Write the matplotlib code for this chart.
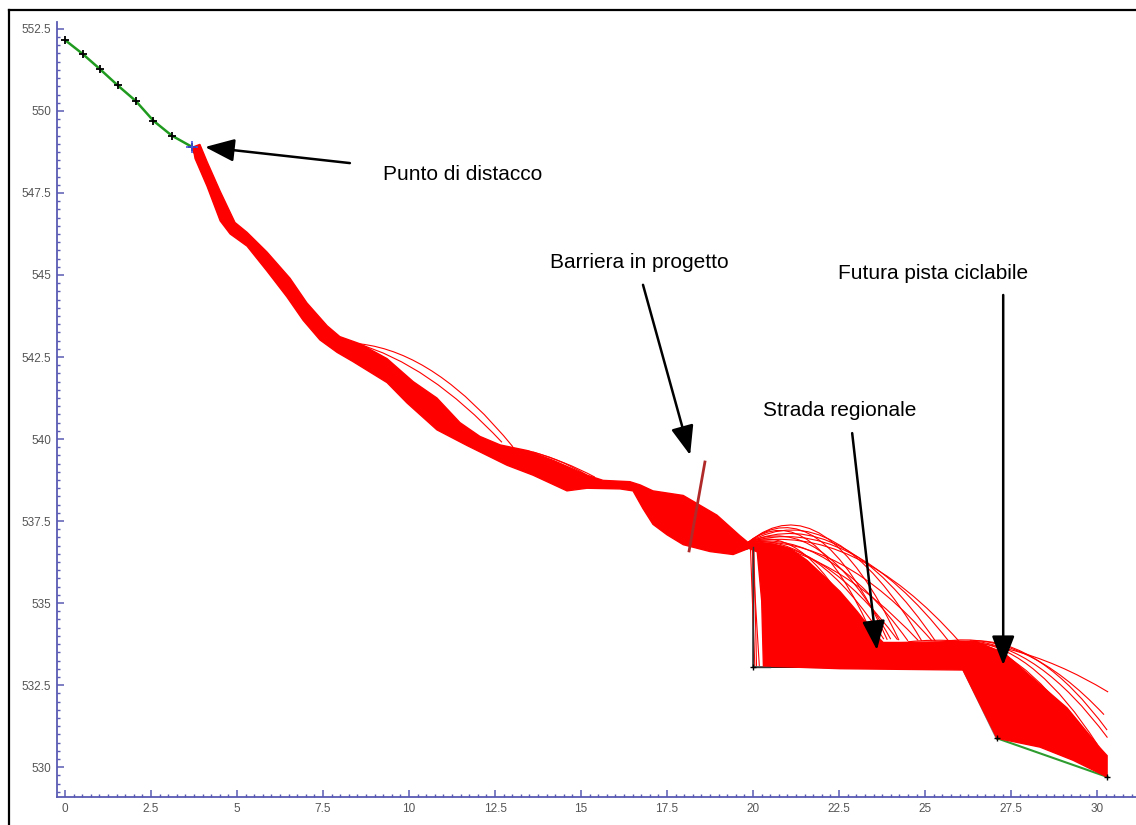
import matplotlib
matplotlib.use("Agg")
import matplotlib.pyplot as plt
from matplotlib.path import Path
from matplotlib.patches import PathPatch, Polygon
from matplotlib.lines import Line2D
from matplotlib.ticker import MultipleLocator

plt.rcParams['font.family'] = ['Liberation Sans', 'DejaVu Sans']

# ---------------- data (distance m, elevation m) ----------------
# upper green slope with survey points
slope_x = [0.0, 0.51, 1.02, 1.53, 2.06, 2.57, 3.10, 3.68]
slope_y = [552.16, 551.74, 551.27, 550.78, 550.30, 549.70, 549.25, 548.91]

# ground profile below the trajectories
ground_x = [3.68, 4.13, 4.51, 4.80, 5.29, 5.87, 6.45, 6.92, 7.41, 7.91, 8.37,
            9.36, 9.94, 10.81, 11.69, 12.27, 12.85, 13.60, 14.59, 15.17, 16.13,
            16.51, 16.80, 17.09, 17.50, 17.97, 18.75, 19.42, 20.0, 20.0, 26.10]
ground_y = [548.91, 547.78, 546.73, 546.33, 545.95, 545.20, 544.40, 543.70,
            543.10, 542.70, 542.43, 541.80, 541.18, 540.36, 539.88, 539.58,
            539.28, 538.98, 538.50, 538.56, 538.54, 538.48, 537.95, 537.47,
            537.15, 536.85, 536.64, 536.55, 536.70, 533.05, 533.02]
scarp_x = [26.10, 27.09]
scarp_y = [533.02, 530.88]
toe_x = [27.09, 30.30]
toe_y = [530.88, 529.70]
node_x = [20.0, 27.09, 30.30]
node_y = [533.05, 530.88, 529.70]

# envelope of the trajectory bundle, first reach (top edge then bottom edge)
band1_top_x = [3.72, 3.92, 4.13, 4.51, 4.94, 5.29, 5.87, 6.54, 7.03, 7.62, 7.99,
               8.58, 9.36, 10.12, 10.81, 11.48, 12.06, 12.65, 13.43, 14.19,
               15.17, 15.64, 16.42, 16.72, 17.09, 17.97, 18.95, 19.62, 19.85]
band1_top_y = [548.90, 548.98, 548.45, 547.55, 546.60, 546.30, 545.70, 544.90,
               544.15, 543.45, 543.12, 542.90, 542.45, 541.75, 541.25, 540.50,
               540.08, 539.82, 539.65, 539.35, 538.90, 538.74, 538.70, 538.60,
               538.42, 538.28, 537.68, 537.05, 536.85]
band1_bot_x = [3.78, 4.13, 4.51, 4.80, 5.29, 5.87, 6.45, 6.92, 7.41, 7.91, 8.37,
               9.36, 9.94, 10.81, 11.69, 12.27, 12.85, 13.60, 14.59, 15.17,
               16.13, 16.51, 16.80, 17.09, 17.50, 17.97, 18.75, 19.42, 19.83]
band1_bot_y = [548.55, 547.70, 546.65, 546.25, 545.88, 545.12, 544.33, 543.62,
               543.02, 542.64, 542.36, 541.72, 541.10, 540.28, 539.80, 539.50,
               539.20, 538.90, 538.42, 538.50, 538.48, 538.42, 537.88, 537.40,
               537.08, 536.78, 536.57, 536.48, 536.65]

# envelope of the bundle below the cliff (top edge, then bottom edge back)
band2_top_x = [19.85, 20.58, 21.08, 21.57, 22.03, 22.53, 23.02, 23.49, 23.78,
               24.27, 25.44, 26.40, 27.27, 28.14, 29.13, 30.09, 30.29]
band2_top_y = [536.85, 536.80, 536.66, 536.30, 535.85, 535.35, 534.75, 534.12,
               533.80, 533.80, 533.82, 533.84, 533.50, 532.70, 531.80, 530.58, 530.35]
band2_bot_x = [30.29, 29.30, 28.34, 27.09, 26.10, 22.53, 20.30, 20.25, 20.12, 19.85]
band2_bot_y = [529.70, 530.21, 530.61, 530.88, 532.96, 533.00, 533.08, 535.07,
               536.56, 536.68]

# isolated flight arcs: (x start, y start, y at mid-distance, x end, y end)
arcs_reach1 = [(8.58, 542.90, 541.98, 13.02, 539.76),
               (8.45, 542.92, 541.85, 12.70, 539.90),
               (13.43, 539.65, 539.36, 15.17, 538.90),
               (13.60, 539.60, 539.28, 15.40, 538.84)]
arcs_reach2 = [(19.87, 536.86, 537.05, 24.24, 533.87),
               (19.87, 536.86, 536.95, 23.90, 533.88),
               (19.87, 536.86, 536.85, 24.90, 533.85),
               (19.87, 536.86, 536.70, 25.30, 533.84),
               (19.87, 536.86, 536.55, 25.70, 533.82),
               (19.87, 536.86, 536.40, 26.00, 533.82),
               (19.87, 536.86, 536.85, 23.50, 533.95),
               (19.87, 536.86, 536.60, 24.00, 533.90),
               (19.87, 536.86, 536.30, 24.50, 533.85),
               (19.87, 536.86, 536.20, 25.20, 533.85),
               (19.87, 536.86, 536.45, 23.20, 533.95),
               (19.87, 536.86, 536.15, 24.20, 533.88),
               (19.87, 536.86, 536.00, 24.80, 533.86),
               (19.87, 536.86, 536.25, 23.80, 533.90)]
arcs_reach3 = [(24.50, 533.82, 533.60, 30.32, 532.29),
               (25.60, 533.84, 533.45, 30.20, 531.60),
               (26.40, 533.85, 533.20, 30.29, 531.13),
               (26.50, 533.80, 532.90, 30.00, 530.70),
               (26.60, 533.75, 532.60, 29.70, 530.50),
               (26.70, 533.70, 532.40, 29.40, 530.45),
               (26.30, 533.85, 533.05, 30.30, 530.90),
               (26.45, 533.82, 532.75, 29.85, 530.55),
               (26.55, 533.78, 532.50, 29.55, 530.48)]
cliff_streaks = [(19.92, 536.78, 20.05, 533.10),
                 (19.97, 536.75, 20.18, 533.10),
                 (20.02, 536.80, 20.10, 533.10)]

barrier_x = [18.60, 18.14]
barrier_y = [539.30, 536.59]

labels = ["Punto di distacco", "Barriera in progetto", "Strada regionale",
          "Futura pista ciclabile"]
label_xy = [(9.24, 548.05), (14.10, 545.37), (20.29, 540.88), (22.47, 545.03)]
arrow_tail = [(8.28, 548.41), (16.80, 544.70), (22.88, 540.18), (27.27, 544.39)]
arrow_head = [(4.07, 548.90), (18.17, 539.51), (23.60, 533.57), (27.27, 533.11)]

# ---------------- drawing ----------------
W, H = 1136, 825
fig = plt.figure(figsize=(W / 100, H / 100), dpi=100)
ax = fig.add_axes([57 / W, 28 / H, 1 - 57 / W, (797 - 22) / H])
ax.set_xlim(-0.233, 31.13)
ax.set_ylim(529.09, 552.71)

red = '#ff0000'
ax.plot(ground_x, ground_y, color='black', lw=1.0, zorder=1)
ax.plot(scarp_x, scarp_y, color='#808080', lw=2.0, zorder=1)
ax.plot(toe_x, toe_y, color='#2e9b2e', lw=1.5, zorder=1)

ax.add_patch(Polygon(list(zip(band1_top_x + band1_bot_x[::-1],
                              band1_top_y + band1_bot_y[::-1])),
                     closed=True, facecolor=red, edgecolor=red, lw=1.0, zorder=2))
ax.add_patch(Polygon(list(zip(band2_top_x + band2_bot_x,
                              band2_top_y + band2_bot_y)),
                     closed=True, facecolor=red, edgecolor=red, lw=1.0, zorder=2))

for group in (arcs_reach1, arcs_reach2, arcs_reach3):
    for x0, y0, ym, x1, y1 in group:
        xm = 0.5 * (x0 + x1)
        cy = 2 * ym - 0.5 * (y0 + y1)
        p = Path([(x0, y0), (xm, cy), (x1, y1)],
                 [Path.MOVETO, Path.CURVE3, Path.CURVE3])
        ax.add_patch(PathPatch(p, facecolor='none', edgecolor=red, lw=0.8, zorder=2))

for x0, y0, x1, y1 in cliff_streaks:
    ax.plot([x0, x1], [y0, y1], color=red, lw=0.8, zorder=2)

# cliff line stays visible
ax.plot([20.0, 20.0, 20.5], [536.7, 533.05, 533.05], color='#333333', lw=1.0, zorder=3)

ax.plot(slope_x, slope_y, color='#1f9a1f', lw=1.8, zorder=3)
ax.plot(slope_x, slope_y, ls='none', marker='+', color='black', ms=6, mew=1.3, zorder=4)
ax.plot(node_x, node_y, ls='none', marker='+', color='black', ms=5, mew=1.0, zorder=4)
ax.plot([slope_x[-1]], [slope_y[-1]], ls='none', marker='+', color='#4455dd', ms=9, mew=1.2, zorder=5)

ax.plot(barrier_x, barrier_y, color='#b02a2a', lw=2.0, zorder=4)

for txt, (tx, ty), (ax0, ay0), (hx, hy) in zip(labels, label_xy, arrow_tail, arrow_head):
    ax.text(tx, ty, txt, fontsize=15, color='black', va='center', ha='left', zorder=6)
    ax.annotate('', xy=(hx, hy), xytext=(ax0, ay0),
                arrowprops=dict(arrowstyle='-|>,head_length=0.9,head_width=0.35',
                                color='black', lw=1.8, shrinkA=0, shrinkB=0,
                                mutation_scale=20), zorder=6)

# axes styling (Mathematica-like)
axis_col = '#5a5ab4'
for s in ('top', 'right'):
    ax.spines[s].set_visible(False)
for s in ('left', 'bottom'):
    ax.spines[s].set_color(axis_col)
    ax.spines[s].set_linewidth(1.3)
ax.xaxis.set_major_locator(MultipleLocator(2.5))
ax.xaxis.set_minor_locator(MultipleLocator(0.25))
ax.yaxis.set_major_locator(MultipleLocator(2.5))
ax.yaxis.set_minor_locator(MultipleLocator(0.25))
ax.tick_params(which='major', direction='in', length=5, width=1.1, color=axis_col,
               labelsize=8.5, labelcolor='#555555', pad=4)
ax.tick_params(which='minor', direction='in', length=2.5, width=1.0, color=axis_col)
ax.set_xticks([0, 2.5, 5, 7.5, 10, 12.5, 15, 17.5, 20, 22.5, 25, 27.5, 30])
ax.set_xticklabels(['0', '2.5', '5', '7.5', '10', '12.5', '15', '17.5', '20',
                    '22.5', '25', '27.5', '30'])
ax.set_yticks([530, 532.5, 535, 537.5, 540, 542.5, 545, 547.5, 550, 552.5])
ax.set_yticklabels(['530', '532.5', '535', '537.5', '540', '542.5', '545',
                    '547.5', '550', '552.5'])
ax.patch.set_alpha(0)

# outer frame of the screenshot
fig.add_artist(Line2D([9 / W, 9 / W], [0, 1 - 10 / H], color='black', lw=1.6,
                      transform=fig.transFigure))
fig.add_artist(Line2D([9 / W, 1], [1 - 10 / H, 1 - 10 / H], color='black', lw=1.6,
                      transform=fig.transFigure))

fig.savefig('out.png', dpi=100)
